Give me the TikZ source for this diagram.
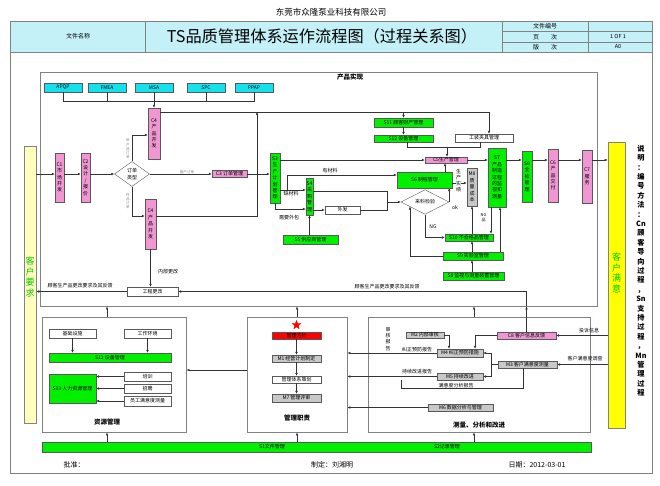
\documentclass[tikz,border=0pt]{standalone}
\usepackage{fontspec}
\setmainfont{Noto Sans CJK SC}
\usetikzlibrary{arrows.meta,shapes.geometric}
\newcommand\fsz[2]{\fontsize{#1}{#2}\selectfont}
\newcommand\mybox[7]{\node[#1, minimum width={#4pt-#3pt}, minimum height={#6pt-#5pt}] (#2) at ({(#3+#4)/2},{(#5+#6)/2}) {#7};}
\definecolor{hdr}{RGB}{196,240,248}
\definecolor{cyanc}{RGB}{20,225,235}
\definecolor{pinkc}{RGB}{240,150,210}
\definecolor{greenc}{RGB}{0,240,0}
\definecolor{greyc}{RGB}{200,200,200}
\definecolor{ylight}{RGB}{255,255,190}
\definecolor{yel}{RGB}{255,255,0}
\definecolor{framec}{RGB}{130,130,130}
\definecolor{grn}{RGB}{0,200,0}
\tikzset{
 frm/.style={draw=framec, line width=0.9pt},
 fr/.style={draw=framec, line width=0.9pt, inner sep=0pt},
 bx/.style={draw=black!65, line width=0.4pt, inner sep=0pt, font=\fsz{5}{6.4}, align=center},
 cy/.style={bx, fill=cyanc},
 pk/.style={bx, fill=pinkc},
 gn/.style={bx, fill=greenc},
 gy/.style={bx, fill=greyc},
 wt/.style={bx, fill=white},
 rd/.style={bx, fill=red},
 dia/.style={draw=black!65, line width=0.4pt, fill=white, shape=diamond, inner sep=0pt, font=\fsz{5}{6.4}, align=center},
 ar/.style={-{Latex[length=3pt,width=2.6pt]}, draw=black!80, line width=0.45pt},
 ln/.style={draw=black!80, line width=0.45pt},
 lbl/.style={font=\fsz{5}{6.2}, inner sep=0.3pt, align=center},
 glbl/.style={font=\fsz{3.6}{4.2}, text=black!45, inner sep=0pt, align=center},
 ttl/.style={font=\bfseries\fsz{6.5}{8}, inner sep=0pt},
}
\begin{document}
\begin{tikzpicture}[x=1pt,y=-1pt]
\useasboundingbox (0,0) rectangle (660,486);
\fill[white] (0,0) rectangle (660,486);
% header
\node[font=\fsz{8.5}{10}] (co) at (331,12) {东莞市众隆泵业科技有限公司};
\draw[frm, fill=hdr] (10,21) rectangle (652,52);
\draw[frm] (10,21) rectangle (652,473);
\draw[frm] (145,21)--(145,52) (502,21)--(502,52) (588,21)--(588,52) (502,31.5)--(652,31.5) (502,42)--(652,42);
\node[font=\fsz{6}{7}] (wjmc) at (78,36.5) {文件名称};
\node[font=\fsz{16.2}{18}] (title) at (322,36.5) {TS品质管理体系运作流程图（过程关系图）};
\node[font=\fsz{6}{7}] (h1) at (545,26.3) {文件编号};
\node[font=\fsz{6}{7}] (h2) at (545,36.8) {页　　次};
\node[font=\fsz{6}{7}] (h3) at (545,47) {版　　次};
\node[font=\fsz{5.5}{7}] (v2) at (618,36.8) {1 OF 1};
\node[font=\fsz{5.5}{7}] (v3) at (618,47) {A0};
% frames
\mybox{fr}{pf}{40}{597}{72}{306}{}
\node[ttl] (cpsx) at (350,77.5) {产品实现};
\mybox{fr, fill=white}{rb}{42}{186}{317}{432}{}
\mybox{fr, fill=white}{mb}{247}{347}{317}{432}{}
\mybox{fr, fill=white}{eb}{368}{590}{317}{432}{}
% side bars
\node[draw=framec, line width=0.6pt, fill=ylight, inner sep=0pt, minimum width=12pt, minimum height=277pt] (kr) at (30,284.5) {};
\node[text=grn, font=\fsz{9}{10.5}, align=center, inner sep=0pt] (krt) at (30,277) {客\\户\\要\\求};
\node[draw=framec, line width=0.6pt, fill=yel, inner sep=0pt, minimum width=17pt, minimum height=286pt] (km) at (616.5,285) {};
\node[text=grn, font=\fsz{9}{10.5}, align=center, inner sep=0pt] (kmt) at (616.5,273) {客\\户\\满\\意};
\node[font=\bfseries\fsz{7.2}{9.4}, align=center, inner sep=0pt, anchor=north] (sm) at (641,145) {说\\明\\：\\编\\号\\方\\法\\：\\Cn\\顾\\客\\导\\向\\过\\程\\，\\Sn\\支\\持\\过\\程\\，\\Mn\\管\\理\\过\\程};
% cyan row
\mybox{cy}{apqp}{44}{82}{83}{92}{APQP}
\mybox{cy}{fmea}{88}{126}{83}{92}{FMEA}
\mybox{cy}{msa}{135}{173}{83}{92}{MSA}
\mybox{cy}{spc}{187}{225}{83}{92}{SPC}
\mybox{cy}{ppap}{235}{273}{83}{92}{PPAP}
\mybox{pk}{c4a}{148}{160}{108}{159}{C4\\产\\品\\开\\发}
\coordinate (busL) at (63,101);
\coordinate (busR) at (254,101);
\draw[ln] (apqp.south) -- (apqp.south |- busL) -- (ppap.south |- busR) -- (ppap.south);
\draw[ln] (fmea.south) -- (fmea.south |- busL);
\draw[ln] (spc.south) -- (spc.south |- busL);
\draw[ar] (msa.south) -- (c4a.north);
% customer-oriented chain
\mybox{pk}{c1}{55}{64}{153}{202}{C1\\市\\场\\开\\发}
\mybox{pk}{c2}{81}{90}{153}{202}{C2\\设\\计\\/\\报\\价}
\node[dia, minimum width=35pt, minimum height=25pt] (ord) at (132,174) {订单\\类型};
\mybox{pk}{c3}{212}{247}{170.5}{177.5}{C3 订单管理}
\mybox{pk}{c4b}{145}{156}{199}{249}{C4\\产\\品\\开\\发}
\mybox{wt}{gc}{127}{178}{287}{296}{工程更改}
\draw[ar] (kr.east |- ord.west) -- (c1.west |- ord.west);
\draw[ar] (c1.east |- ord.west) -- (c2.west |- ord.west);
\draw[ar] (c2.east |- ord.west) -- (ord.west);
\draw[ar] (ord.east) -- (c3.west |- ord.east);
\draw[ar] (ord.north) |- (c4a.west |- 0,135);
\draw[ar] (ord.south) |- (c4b.west |- 0,216);
\node[glbl] (lb1) at (128,149) {新\\产\\品\\订\\单};
\node[glbl] (lb2) at (128,201) {样\\品\\订\\单};
\node[glbl] (lb3) at (187,172) {量产订单};
\draw[ar] (c4b.south) -- (gc.north -| c4b.south);
\node[lbl] (nbgg) at (168,272) {内部更改};
\draw[ar] (gc.west) -- (kr.east |- gc.west);
\node[lbl] (gkl) at (80,285.5) {顾客生产品更改要求及其反馈};
% production
\mybox{gn}{s3}{270}{280}{153}{203}{S3\\生\\产\\计\\划\\管\\理}
\mybox{gn}{s4}{306}{313}{178}{215}{S4\\采\\购\\管\\理}
\mybox{wt}{wf}{325}{360}{206}{214}{外发}
\mybox{gn}{s5}{283}{338}{235}{244}{S5 供应商管理}
\mybox{gn}{s6}{397}{452}{172}{188}{S6 制程管理}
\node[dia, minimum width=48pt, minimum height=23pt] (jl) at (425,202) {来料检验};
\mybox{gn}{s11}{374}{433}{118}{127}{S11 顾客财产管理}
\mybox{gn}{s12a}{374}{433}{135}{142}{S12 设备管理}
\mybox{wt}{gz}{455}{513}{134}{142}{工装夹具管理}
\mybox{pk}{c5}{425}{467}{157}{163}{C5生产管理}
\mybox{gy}{m8}{467}{477}{168}{206}{M8\\质\\量\\成\\本}
\mybox{gn}{s10}{445}{493}{234}{241}{S10 不合格品管理}
\mybox{gn}{s9}{443}{503}{252}{260}{S9 实验室管理}
\mybox{gn}{s8}{443}{504}{272}{280}{S8 监视与测量装置管理}
\mybox{gn}{s7}{488}{506}{148}{207}{S7\\产品\\制造\\过程\\的监\\视和\\测量}
\mybox{gn}{qj}{522}{532}{151}{202}{S8\\全\\检\\管\\理}
\mybox{pk}{c6}{548}{558}{149}{202}{C6\\产\\品\\交\\付}
\mybox{pk}{c7}{582}{592}{150}{203}{C7\\服\\务}
\draw[ar] (c3.east) -- (s3.west |- c3.east);
\draw[ar] (c4a.east |- 0,112) -| ([xshift=5pt]gz.north);
\draw[ar] (s11.north |- 0,112) -- (s11.north);
\draw[ar] (c4b.east |- 0,216) -| (257,112);
\draw[ar] (s3.east |- 0,160) -- (c5.west |- 0,160);
\coordinate (m1) at (287,190);
\draw[ln] (s3.east |- m1) -- (m1);
\draw[ar] (m1) |- (s6.west |- 0,175);
\draw[ar] (m1) -- (s4.west |- m1);
\node[lbl] (ycl) at (330,171) {有材料};
\node[lbl] (qcl) at (291,194) {缺材料};
\draw[ar] (s3.south) |- (s4.west |- 0,209);
\node[lbl] (xywb) at (289,217.5) {需要外包};
\draw[ar] (s4.east |- wf.west) -- (wf.west);
\coordinate (jn) at (387,202);
\draw[ln] (s4.east |- 0,191) -| (jn);
\draw[ln] (wf.east) -| (jn);
\draw[ar] (jn) -- (jl.west);
\draw[ar] (s5.north -| s4.south) -- (s4.south);
\draw[ar] (jl.east) -- (jl.east |- s6.south);
\node[lbl] (okl) at (455,208) {ok};
\draw[ar] (jl.south) |- (s10.west);
\node[lbl] (ngl) at (433,227) {NG};
\draw[ar] (s8.north -| 472,0) -- (s9.south -| 472,0);
\draw[ar] (s9.north -| 472,0) -- (s10.south -| 472,0);
\draw[ar] (s10.north -| 472,0) -- (m8.south -| 472,0);
\draw[ar] (s9.west) -| (410,206.5);
\draw[ar] (s7.south -| 491,0) -- (s10.north -| 491,0);
\draw[ar] (s9.north -| 500,0) -- (s7.south -| 500,0);
\node[font=\fsz{4}{4.8}, align=center, inner sep=0pt] (ngp) at (483.5,218) {NG\\品};
\draw[ar] (s6.east |- 0,183) -- (m8.west |- 0,183);
\node[lbl, fill=white] (scsj) at (458.5,180.5) {生\\产\\实\\绩};
\draw[ar] (s6.north -| 445,0) -- (c5.south -| 445,0);
\draw[ar] (s11.south) -- (s12a.north);
\coordinate (c5j) at (447,147);
\draw[ln] (s12a.south -| 407,0) |- (c5j);
\draw[ln] (gz.south -| 480,0) |- (c5j);
\draw[ar] (c5j) -- (c5.north -| c5j);
\draw[ar] (c5.east) -- (s7.west |- c5.east);
\draw[ar] (s7.east |- 0,160) -- (qj.west |- 0,160);
\draw[ar] (qj.east |- 0,160) -- (c6.west |- 0,160);
\draw[ar] (c6.east |- 0,160) -- (c7.west |- 0,160);
\draw[ar] (c7.east |- 0,160) -- (km.west |- 0,160);
% customer feedback to engineering change
\mybox{pk}{c8}{497}{556}{332}{339}{C8 客户信息反馈}
\draw[ar] (c8.north) -- (c8.north |- pf.south);
\draw[ar] (c8.north |- pf.south) |- (gc.east);
\node[lbl] (gkl2) at (387,286.5) {顾客生产品更改要求及其反馈};
% resources
\mybox{wt}{jc}{49}{96}{329}{338}{基础设施}
\mybox{wt}{hj}{124}{171}{329}{338}{工作环境}
\mybox{gn}{s12b}{49}{171}{353}{362}{S12 设备管理}
\mybox{gn}{s13}{49}{96}{374}{403}{S13 人力资源管理}
\mybox{wt}{px}{124}{171}{372}{381}{培训}
\mybox{wt}{zp}{124}{171}{384}{393}{招聘}
\mybox{wt}{myd}{124}{171}{396}{406}{员工满意度测量}
\draw[ar] (jc.south) -- (s12b.north -| jc.south);
\draw[ar] (hj.south) -- (s12b.north -| hj.south);
\draw[ar] (px.west) -- (s13.east |- px.west);
\draw[ar] (zp.west) -- (s13.east |- zp.west);
\draw[ar] (myd.west) -- (s13.east |- myd.west);
\node[ttl] (zygl) at (107,422) {资源管理};
\draw[ar] (mb.west |- 0,370) -- (rb.east |- 0,370);
% management
\node[star, star points=5, star point ratio=2.4, fill=red, draw=red, minimum size=9pt, inner sep=0pt] (st) at (296.5,325) {};
\mybox{rd}{gf}{272}{321}{332}{339}{管理方针}
\mybox{gy}{m1b}{272}{321}{355}{362}{M1 经营计划制定}
\mybox{wt}{gt}{272}{321}{376}{383}{管理体系策划}
\mybox{gy}{m7}{272}{321}{394}{402}{M7 管理评审}
\draw[ar] (gf.south) -- (m1b.north);
\draw[ar] (m1b.south) -- (gt.north);
\draw[ar] (gt.south) -- (m7.north);
\node[ttl] (glzz) at (297,418) {管理职责};
% measurement
\node[lbl] (shbg) at (388,339) {审\\核\\报\\告};
\mybox{gy}{m2}{406}{444}{332}{338}{M2 内部审核}
\node[lbl] (jzbg) at (417,349.3) {纠正预防报告};
\mybox{gy}{m4}{437}{483}{349}{357}{M4 纠正预防措施}
\draw[ar] (m2.east) -| (m4.north -| 449,0);
\draw[ar] (c8.west) -| (m4.north -| 475,0);
\draw[ar] (km.west |- c8.east) -- (c8.east);
\node[lbl] (tsxx) at (589,331) {投诉信息};
\mybox{gy}{m3}{498}{557}{361}{368}{M3 客户满意度测量}
\draw[ar] (km.west |- m3.east) -- (m3.east);
\node[lbl] (mydc) at (585,359) {客户满意度调查};
\mybox{gy}{m5}{437}{483}{373}{380}{M5 持续改进}
\coordinate (mj) at (491,364.5);
\draw[ln] (m3.west) -- (mj);
\draw[ar] (mj) |- (m4.east);
\draw[ar] (mj) |- (m5.east);
\node[lbl] (cxbg) at (417,371.8) {持续改进报告};
\node[lbl] (fxbg) at (456,385.5) {满意度分析报告};
\draw[ln] (m3.south -| 523,0) |- (401,388.5) -- (401,380);
\draw[ar] (m4.west) -- (mb.east |- m4.west);
\draw[ar] (m5.west) -- (mb.east |- m5.west);
\mybox{gy}{m6}{428}{493}{404}{411}{M6 数据分析与管理}
\draw[ar] (m6.west) -- (mb.east |- m6.west);
\node[ttl] (clfx) at (479,425) {测量、分析和改进};
% up arrows
\draw[ar] (rb.north -| 107,0) -- (pf.south -| 107,0);
\draw[ar] (mb.north -| 297,0) -- (pf.south -| 297,0);
\draw[ar] (eb.north -| 474,0) -- (pf.south -| 474,0);
% bottom bar
\mybox{gn}{sb}{42}{591}{442}{452}{}
\node[lbl] (s1t) at (272,447) {S1文件管理};
\node[lbl] (s2t) at (447,447) {S2记录管理};
\draw[ar] (sb.north -| 107,0) -- (rb.south -| 107,0);
\draw[ar] (sb.north -| 297,0) -- (mb.south -| 297,0);
\draw[ar] (sb.north -| 474,0) -- (eb.south -| 474,0);
% footer
\node[font=\fsz{7}{8}] (pz) at (74,464.5) {批准：};
\node[font=\fsz{7}{8}] (zd) at (332,464.5) {制定：刘湘明};
\node[font=\fsz{7}{8}] (rq) at (537,464.5) {日期：2012-03-01};
\end{tikzpicture}
\end{document}
